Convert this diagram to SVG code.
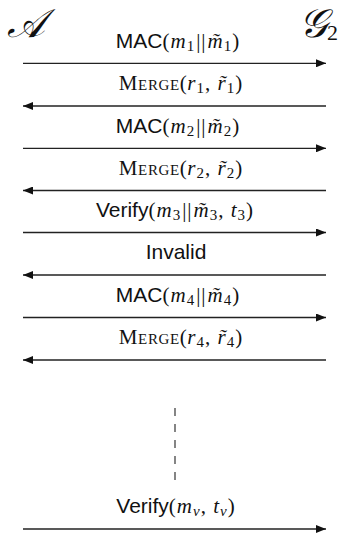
<svg xmlns="http://www.w3.org/2000/svg" width="342" height="536" viewBox="0 0 342 536">
<style>
.lbl{font-size:21px;text-anchor:middle;fill:#111}
.sf{font-family:"Liberation Sans","DejaVu Sans",sans-serif}
.rm{font-family:"Liberation Serif","DejaVu Serif",serif;letter-spacing:1px}
.it{font-family:"Liberation Serif","DejaVu Serif",serif;font-style:italic;letter-spacing:1px}
.sc{font-family:"Liberation Serif","DejaVu Serif",serif;font-variant:small-caps;letter-spacing:0.6px}
.sub{font-size:15px}
.party{font-family:"DejaVu Serif","Liberation Serif",serif;font-style:italic;font-size:40px;fill:#111}
.msg{stroke:#222;stroke-width:1.3;fill:none}
</style>
<defs>
<marker id="ah" viewBox="0 0 10 8" refX="10" refY="4" markerWidth="10" markerHeight="8" markerUnits="userSpaceOnUse" orient="auto">
<path d="M0,0 L10,4 L0,8 z" fill="#111"/>
</marker>
</defs>
<g id="partyA"><text class="party" x="7" y="37">𝒜</text></g>
<g id="partyG2"><text class="party" x="299" y="37">𝒢<tspan font-size="22" font-style="normal" font-family="Liberation Serif,serif" dy="3">2</tspan></text></g>
<g id="connectors">
<line class="msg" x1="23" y1="63.3" x2="326" y2="63.3" marker-end="url(#ah)"/>
<line class="msg" x1="326" y1="106" x2="23" y2="106" marker-end="url(#ah)"/>
<line class="msg" x1="23" y1="148.3" x2="326" y2="148.3" marker-end="url(#ah)"/>
<line class="msg" x1="326" y1="190.5" x2="23" y2="190.5" marker-end="url(#ah)"/>
<line class="msg" x1="23" y1="232.5" x2="326" y2="232.5" marker-end="url(#ah)"/>
<line class="msg" x1="326" y1="275" x2="23" y2="275" marker-end="url(#ah)"/>
<line class="msg" x1="23" y1="317.5" x2="326" y2="317.5" marker-end="url(#ah)"/>
<line class="msg" x1="326" y1="360" x2="23" y2="360" marker-end="url(#ah)"/>
<line x1="175" y1="408" x2="175" y2="480" stroke="#444" stroke-width="1.3" stroke-dasharray="8 8"/>
<line class="msg" x1="23" y1="529" x2="326" y2="529" marker-end="url(#ah)"/>
</g>
<g id="labels">
<text class="lbl" x="178" y="47.5"><tspan class="sf">MAC</tspan><tspan class="rm">(</tspan><tspan class="it">m</tspan><tspan class="rm sub" dy="3">1</tspan><tspan class="rm" dy="-3" dx="1">||</tspan><tspan class="it" dx="1">m̃</tspan><tspan class="rm sub" dy="3">1</tspan><tspan class="rm" dy="-3">)</tspan></text>
<text class="lbl" x="181" y="90"><tspan class="sc">Merge(</tspan><tspan class="it">r</tspan><tspan class="rm sub" dy="3">1</tspan><tspan class="rm" dy="-3">, </tspan><tspan class="it">r̃</tspan><tspan class="rm sub" dy="3">1</tspan><tspan class="rm" dy="-3">)</tspan></text>
<text class="lbl" x="178" y="132.5"><tspan class="sf">MAC</tspan><tspan class="rm">(</tspan><tspan class="it">m</tspan><tspan class="rm sub" dy="3">2</tspan><tspan class="rm" dy="-3" dx="1">||</tspan><tspan class="it" dx="1">m̃</tspan><tspan class="rm sub" dy="3">2</tspan><tspan class="rm" dy="-3">)</tspan></text>
<text class="lbl" x="181" y="174.5"><tspan class="sc">Merge(</tspan><tspan class="it">r</tspan><tspan class="rm sub" dy="3">2</tspan><tspan class="rm" dy="-3">, </tspan><tspan class="it">r̃</tspan><tspan class="rm sub" dy="3">2</tspan><tspan class="rm" dy="-3">)</tspan></text>
<text class="lbl" x="175" y="216.5"><tspan class="sf">Verify</tspan><tspan class="rm">(</tspan><tspan class="it">m</tspan><tspan class="rm sub" dy="3">3</tspan><tspan class="rm" dy="-3" dx="1">||</tspan><tspan class="it" dx="1">m̃</tspan><tspan class="rm sub" dy="3">3</tspan><tspan class="rm" dy="-3">, </tspan><tspan class="it">t</tspan><tspan class="rm sub" dy="3">3</tspan><tspan class="rm" dy="-3">)</tspan></text>
<text class="lbl sf" x="176" y="259">Invalid</text>
<text class="lbl" x="178" y="301.5"><tspan class="sf">MAC</tspan><tspan class="rm">(</tspan><tspan class="it">m</tspan><tspan class="rm sub" dy="3">4</tspan><tspan class="rm" dy="-3" dx="1">||</tspan><tspan class="it" dx="1">m̃</tspan><tspan class="rm sub" dy="3">4</tspan><tspan class="rm" dy="-3">)</tspan></text>
<text class="lbl" x="181" y="344"><tspan class="sc">Merge(</tspan><tspan class="it">r</tspan><tspan class="rm sub" dy="3">4</tspan><tspan class="rm" dy="-3">, </tspan><tspan class="it">r̃</tspan><tspan class="rm sub" dy="3">4</tspan><tspan class="rm" dy="-3">)</tspan></text>
<text class="lbl" x="176" y="513"><tspan class="sf">Verify</tspan><tspan class="rm">(</tspan><tspan class="it">m</tspan><tspan class="it sub" dy="3">v</tspan><tspan class="rm" dy="-3">, </tspan><tspan class="it">t</tspan><tspan class="it sub" dy="3">v</tspan><tspan class="rm" dy="-3">)</tspan></text>
</g>
</svg>
